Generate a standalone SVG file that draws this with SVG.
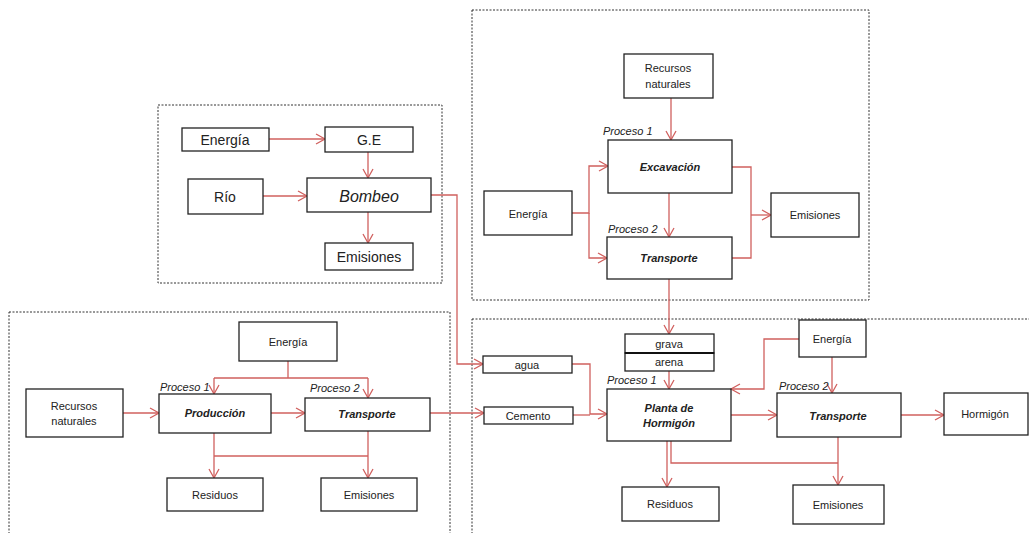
<svg xmlns="http://www.w3.org/2000/svg" width="1029" height="533" viewBox="0 0 1029 533">
  <defs>
    <marker id="arr" markerUnits="userSpaceOnUse" markerWidth="12" markerHeight="14" refX="10" refY="6" orient="auto">
      <path d="M1,1 L10,6 L1,11" fill="none" stroke="#d0605e" stroke-width="1.3"/>
    </marker>
    <style>
      .frame { fill: none; stroke: #333; stroke-width: 1; stroke-dasharray: 2 1.5; }
      .box { fill: #fff; stroke: #222; stroke-width: 1.3; }
      .t { font-family: "Liberation Sans", Arial, sans-serif; font-size: 11px; fill: #222; text-anchor: middle; dominant-baseline: central; }
      .big { font-size: 14px; }
      .pump { font-size: 16px; font-style: italic; }
      .bi { font-weight: bold; font-style: italic; }
      .lab { font-family: "Liberation Sans", Arial, sans-serif; font-size: 11px; font-style: italic; fill: #222; }
      .c { fill: none; stroke: #d0605e; stroke-width: 1.3; }
      .a { marker-end: url(#arr); }
    </style>
  </defs>

  <rect width="1029" height="533" fill="#fff"/>

  <!-- dashed system frames -->
  <g id="frames">
    <rect class="frame" x="158" y="105" width="284" height="178"/>
    <rect class="frame" x="472" y="10" width="397" height="290"/>
    <rect class="frame" x="9" y="312" width="441" height="230"/>
    <rect class="frame" x="472" y="319" width="560" height="230"/>
  </g>

  <!-- connectors -->
  <g id="connectors">
    <!-- pumping -->
    <path class="c a" d="M269,139 H325"/>
    <path class="c a" d="M368,152 V178"/>
    <path class="c a" d="M263,196 H307"/>
    <path class="c a" d="M368,212 V243"/>
    <path class="c a" d="M431,195 H457 V364 H483"/>
    <!-- aggregates -->
    <path class="c a" d="M671,98 V140"/>
    <path class="c a" d="M572,213 H589 V166 H608"/>
    <path class="c a" d="M589,213 V258 H607"/>
    <path class="c a" d="M669,193 V237"/>
    <path class="c" d="M732,167 H751 V258 H732"/>
    <path class="c a" d="M751,215 H771"/>
    <path class="c a" d="M669,279 V334"/>
    <!-- cement -->
    <path class="c" d="M288,361 V378 M214,378 H368"/>
    <path class="c a" d="M214,378 V394"/>
    <path class="c a" d="M368,378 V398"/>
    <path class="c a" d="M123,413 H159"/>
    <path class="c a" d="M271,413 H305"/>
    <path class="c a" d="M430,413 H484"/>
    <path class="c a" d="M214,433 V478"/>
    <path class="c" d="M214,456 H368"/>
    <path class="c a" d="M368,431 V478"/>
    <!-- concrete plant -->
    <path class="c a" d="M572,364 H590 V414 H607"/>
    <path class="c" d="M573,415 H590"/>
    <path class="c a" d="M669,371 V389"/>
    <path class="c a" d="M799,339 H764 V389 H731"/>
    <path class="c a" d="M832,357 V393"/>
    <path class="c a" d="M731,415 H777"/>
    <path class="c a" d="M901,415 H944"/>
    <path class="c a" d="M667,441 V487"/>
    <path class="c" d="M671,441 V463 H838"/>
    <path class="c a" d="M838,437 V485" stroke-width="1.8"/>
  </g>

  <!-- pumping subsystem -->
  <g id="tl-energia"><rect class="box" x="182" y="128" width="87" height="23"/><text class="t big" x="225" y="140">Energía</text></g>
  <g id="tl-ge"><rect class="box" x="325" y="127" width="88" height="25"/><text class="t big" x="369" y="140">G.E</text></g>
  <g id="tl-rio"><rect class="box" x="188" y="179" width="75" height="35"/><text class="t big" x="225" y="197">Río</text></g>
  <g id="tl-bombeo"><rect class="box" x="307" y="178" width="124" height="34"/><text class="t pump" x="369" y="196">Bombeo</text></g>
  <g id="tl-emisiones"><rect class="box" x="325" y="243" width="88" height="27"/><text class="t big" x="369" y="257">Emisiones</text></g>

  <!-- aggregates subsystem -->
  <g id="tr-recursos"><rect class="box" x="624" y="54" width="89" height="44"/><text class="t" x="668" y="68">Recursos</text><text class="t" x="668" y="84">naturales</text></g>
  <g id="tr-excavacion"><text class="lab" x="603" y="135">Proceso 1</text><rect class="box" x="608" y="140" width="124" height="53"/><text class="t bi" x="670" y="167">Excavación</text></g>
  <g id="tr-energia"><rect class="box" x="484" y="191" width="88" height="44"/><text class="t" x="528" y="214">Energía</text></g>
  <g id="tr-transporte"><text class="lab" x="608" y="233">Proceso 2</text><rect class="box" x="607" y="237" width="125" height="42"/><text class="t bi" x="669" y="258">Transporte</text></g>
  <g id="tr-emisiones"><rect class="box" x="771" y="193" width="88" height="44"/><text class="t" x="815" y="215">Emisiones</text></g>

  <!-- cement subsystem -->
  <g id="bl-energia"><rect class="box" x="239" y="322" width="98" height="39"/><text class="t" x="288" y="342">Energía</text></g>
  <g id="bl-recursos"><rect class="box" x="26" y="389" width="97" height="48"/><text class="t" x="74" y="406">Recursos</text><text class="t" x="74" y="421">naturales</text></g>
  <g id="bl-produccion"><text class="lab" x="160" y="391">Proceso 1</text><rect class="box" x="159" y="394" width="112" height="39"/><text class="t bi" x="215" y="413">Producción</text></g>
  <g id="bl-transporte"><text class="lab" x="310" y="392">Proceso 2</text><rect class="box" x="305" y="398" width="125" height="33"/><text class="t bi" x="367" y="414">Transporte</text></g>
  <g id="bl-residuos"><rect class="box" x="167" y="478" width="96" height="33"/><text class="t" x="215" y="495">Residuos</text></g>
  <g id="bl-emisiones"><rect class="box" x="321" y="478" width="96" height="33"/><text class="t" x="369" y="495">Emisiones</text></g>

  <!-- concrete plant subsystem -->
  <g id="br-agua"><rect class="box" x="483" y="356" width="89" height="17"/><text class="t" x="527" y="365">agua</text></g>
  <g id="br-cemento"><rect class="box" x="484" y="407" width="89" height="17"/><text class="t" x="528" y="416">Cemento</text></g>
  <g id="br-grava"><rect class="box" x="625" y="334" width="89" height="19"/><text class="t" x="669" y="344">grava</text></g>
  <g id="br-arena"><rect class="box" x="625" y="353" width="89" height="18"/><line x1="625" y1="353" x2="714" y2="353" stroke="#111" stroke-width="2"/><text class="t" x="669" y="362">arena</text></g>
  <g id="br-planta"><text class="lab" x="607" y="384">Proceso 1</text><rect class="box" x="607" y="389" width="124" height="52"/><text class="t bi" x="669" y="408">Planta de</text><text class="t bi" x="669" y="423">Hormigón</text></g>
  <g id="br-energia"><rect class="box" x="799" y="320" width="67" height="37"/><text class="t" x="832" y="339">Energía</text></g>
  <g id="br-transporte"><text class="lab" x="779" y="390">Proceso 2</text><rect class="box" x="777" y="393" width="124" height="44"/><text class="t bi" x="838" y="416">Transporte</text></g>
  <g id="br-hormigon"><rect class="box" x="944" y="393" width="84" height="42"/><text class="t" x="985" y="414">Hormigón</text></g>
  <g id="br-residuos"><rect class="box" x="622" y="487" width="97" height="34"/><text class="t" x="670" y="504">Residuos</text></g>
  <g id="br-emisiones"><rect class="box" x="793" y="485" width="91" height="39"/><text class="t" x="838" y="505">Emisiones</text></g>
</svg>
